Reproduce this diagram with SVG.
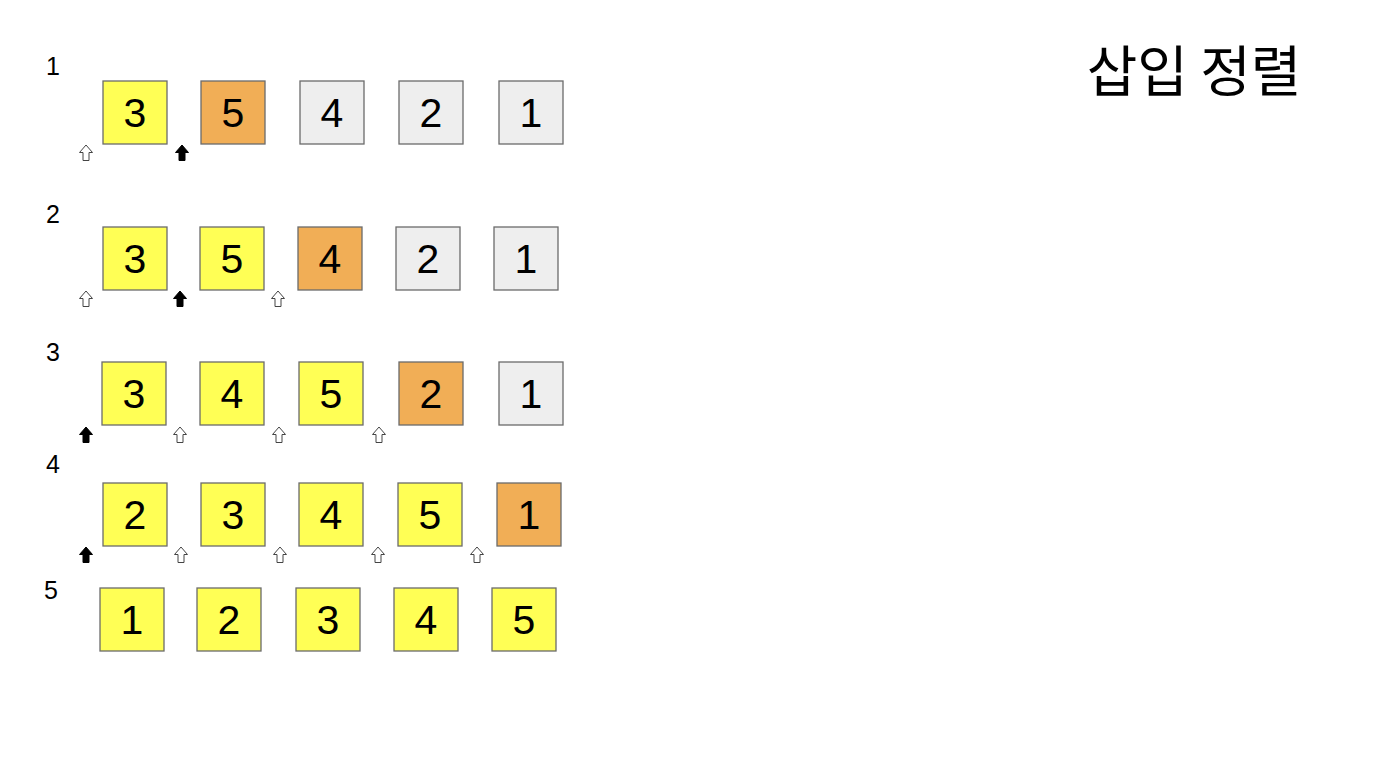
<svg xmlns="http://www.w3.org/2000/svg" xmlns:xlink="http://www.w3.org/1999/xlink" width="1378" height="774" viewBox="0 0 1378 774">
<style>
.box{stroke:#6b6b6b;stroke-width:1.3}
.y{fill:#ffff55}
.o{fill:#f1ae56}
.g{fill:#eeeeee}
.num{font-family:"Liberation Sans",Arial,sans-serif;font-size:41px;fill:#000;text-anchor:middle}
.lbl{font-family:"Liberation Sans",Arial,sans-serif;font-size:25px;fill:#000}
.title{font-family:"Noto Sans CJK KR","Noto Sans",sans-serif;font-size:55px;fill:#000;text-anchor:middle}
.pw{fill:#fff;stroke:#444;stroke-width:1}
.pb{fill:#000;stroke:#000;stroke-width:1}
</style>
<defs>
<path id="arr" d="M0,0 L6.5,7.5 L3,7.5 L3,15.5 L-3,15.5 L-3,7.5 L-6.5,7.5 Z"/>
</defs>
<rect width="1378" height="774" fill="#fff"/>
<text class="title" x="1194" y="91">삽입 정렬</text>

<g id="labels">
<text class="lbl" x="46" y="75">1</text>
<text class="lbl" x="46" y="223">2</text>
<text class="lbl" x="46" y="361">3</text>
<text class="lbl" x="46" y="473">4</text>
<text class="lbl" x="44" y="599">5</text>
</g>

<g id="row1">
<g id="r1c1"><rect class="box y" x="103" y="81" width="64" height="63"/><text class="num" x="135" y="127">3</text></g>
<g id="r1c2"><rect class="box o" x="201" y="81" width="64" height="63"/><text class="num" x="233" y="127">5</text></g>
<g id="r1c3"><rect class="box g" x="300" y="81" width="64" height="63"/><text class="num" x="332" y="127">4</text></g>
<g id="r1c4"><rect class="box g" x="399" y="81" width="64" height="63"/><text class="num" x="431" y="127">2</text></g>
<g id="r1c5"><rect class="box g" x="499" y="81" width="64" height="63"/><text class="num" x="531" y="127">1</text></g>
</g>

<g id="row2">
<g id="r2c1"><rect class="box y" x="103" y="227" width="64" height="63"/><text class="num" x="135" y="273">3</text></g>
<g id="r2c2"><rect class="box y" x="200" y="227" width="64" height="63"/><text class="num" x="232" y="273">5</text></g>
<g id="r2c3"><rect class="box o" x="298" y="227" width="64" height="63"/><text class="num" x="330" y="273">4</text></g>
<g id="r2c4"><rect class="box g" x="396" y="227" width="64" height="63"/><text class="num" x="428" y="273">2</text></g>
<g id="r2c5"><rect class="box g" x="494" y="227" width="64" height="63"/><text class="num" x="526" y="273">1</text></g>
</g>

<g id="row3">
<g id="r3c1"><rect class="box y" x="102" y="362" width="64" height="63"/><text class="num" x="134" y="408">3</text></g>
<g id="r3c2"><rect class="box y" x="200" y="362" width="64" height="63"/><text class="num" x="232" y="408">4</text></g>
<g id="r3c3"><rect class="box y" x="299" y="362" width="64" height="63"/><text class="num" x="331" y="408">5</text></g>
<g id="r3c4"><rect class="box o" x="399" y="362" width="64" height="63"/><text class="num" x="431" y="408">2</text></g>
<g id="r3c5"><rect class="box g" x="499" y="362" width="64" height="63"/><text class="num" x="531" y="408">1</text></g>
</g>

<g id="row4">
<g id="r4c1"><rect class="box y" x="103" y="483" width="64" height="63"/><text class="num" x="135" y="529">2</text></g>
<g id="r4c2"><rect class="box y" x="201" y="483" width="64" height="63"/><text class="num" x="233" y="529">3</text></g>
<g id="r4c3"><rect class="box y" x="299" y="483" width="64" height="63"/><text class="num" x="331" y="529">4</text></g>
<g id="r4c4"><rect class="box y" x="398" y="483" width="64" height="63"/><text class="num" x="430" y="529">5</text></g>
<g id="r4c5"><rect class="box o" x="497" y="483" width="64" height="63"/><text class="num" x="529" y="529">1</text></g>
</g>

<g id="row5">
<g id="r5c1"><rect class="box y" x="100" y="588" width="64" height="63"/><text class="num" x="132" y="634">1</text></g>
<g id="r5c2"><rect class="box y" x="197" y="588" width="64" height="63"/><text class="num" x="229" y="634">2</text></g>
<g id="r5c3"><rect class="box y" x="296" y="588" width="64" height="63"/><text class="num" x="328" y="634">3</text></g>
<g id="r5c4"><rect class="box y" x="394" y="588" width="64" height="63"/><text class="num" x="426" y="634">4</text></g>
<g id="r5c5"><rect class="box y" x="492" y="588" width="64" height="63"/><text class="num" x="524" y="634">5</text></g>
</g>

<g id="pointers">
<use href="#arr" xlink:href="#arr" class="pw" x="86" y="145"/>
<use href="#arr" xlink:href="#arr" class="pb" x="182" y="145"/>

<use href="#arr" xlink:href="#arr" class="pw" x="86" y="291"/>
<use href="#arr" xlink:href="#arr" class="pb" x="180" y="291"/>
<use href="#arr" xlink:href="#arr" class="pw" x="278" y="291"/>

<use href="#arr" xlink:href="#arr" class="pb" x="86" y="427"/>
<use href="#arr" xlink:href="#arr" class="pw" x="180" y="427"/>
<use href="#arr" xlink:href="#arr" class="pw" x="279" y="427"/>
<use href="#arr" xlink:href="#arr" class="pw" x="379" y="427"/>

<use href="#arr" xlink:href="#arr" class="pb" x="86" y="547"/>
<use href="#arr" xlink:href="#arr" class="pw" x="181" y="547"/>
<use href="#arr" xlink:href="#arr" class="pw" x="280" y="547"/>
<use href="#arr" xlink:href="#arr" class="pw" x="378" y="547"/>
<use href="#arr" xlink:href="#arr" class="pw" x="477" y="547"/>
</g>
</svg>
